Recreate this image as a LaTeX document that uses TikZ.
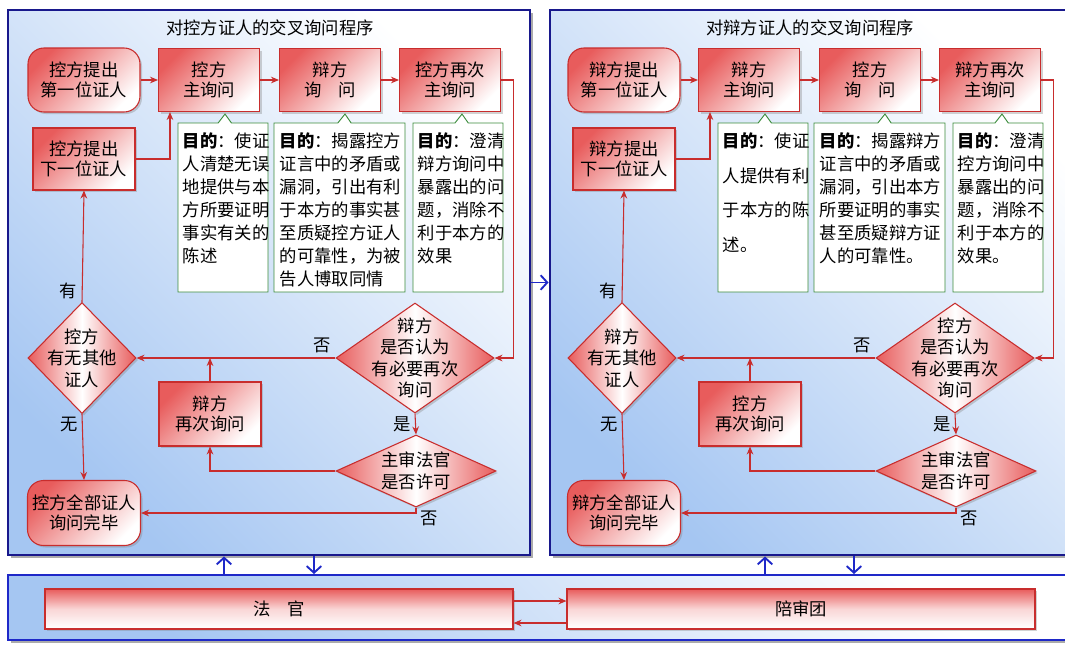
\documentclass[tikz,border=0pt]{standalone}
\usepackage{fontspec}
\setmainfont{Noto Sans CJK SC}
\usepackage{tikz}
\usetikzlibrary{calc,shapes.geometric,shapes.callouts,shadows,arrows.meta}
\definecolor{panelblue}{RGB}{24,24,140}
\definecolor{panelfill}{RGB}{165,198,242}
\definecolor{boxred}{RGB}{232,92,92}
\definecolor{linered}{RGB}{200,45,45}
\definecolor{notegreen}{RGB}{60,140,60}
\definecolor{linkblue}{RGB}{30,40,200}

\begin{document}
\begin{tikzpicture}[x=0.75pt,y=-0.75pt,font=\fontsize{13}{15}\selectfont,
  panel/.style={draw=panelblue,line width=2.2pt,top color=white,bottom color=panelfill,shading angle=-45,drop shadow={shadow xshift=2pt,shadow yshift=-2pt,fill=black!55,opacity=.6},minimum width=391.5pt,minimum height=408.75pt},
  box/.style={draw=linered,line width=.8pt,top color=boxred,bottom color=white,shading angle=45,drop shadow={shadow xshift=1.5pt,shadow yshift=-1.5pt,opacity=.35},align=center,inner sep=2pt,minimum width=75.75pt,minimum height=47.25pt},
  startbox/.style={box,rounded corners=12pt,minimum width=84pt,minimum height=48pt},
  ask/.style={box,diamond,left color=boxred,right color=boxred,middle color=white,inner sep=0pt},
  asktext/.style={align=center,font=\fontsize{13}{16}\selectfont},
  note/.style={rectangle callout,draw=notegreen,line width=.7pt,fill=white,callout pointer width=10pt,minimum height=126.75pt},
  notetext/.style={anchor=north west,align=left,inner sep=0pt,font=\fontsize{13}{17.25}\selectfont},
  arr/.style={draw=linered,line width=.8pt,-{Stealth[length=6pt,width=5pt]}},
  link/.style={draw=linkblue,line width=1.4pt,-{Straight Barb[length=5pt,width=11pt]}},
  bar/.style={box,shading angle=0,middle color=boxred!25,minimum width=351pt,minimum height=30pt}]
\useasboundingbox (0,0) rectangle (1065,644);
\node[panel] (lp) at (269,282.5) {}; \node[panel] (rp) at (811,282.5) {};
\node[panel,draw=linkblue,line width=1.5pt,minimum width=800.25pt,minimum height=48.75pt] (bp) at (541.5,607.5) {};

\node (lt) at (270,28) {对控方证人的交叉询问程序};
\node[startbox] (ls) at (84,80) {控方提出\\第一位证人};
\node[box] (lm1) at (209,80) {控方\\主询问}; \node[box] (lc) at (330,80) {辩方\\询　问}; \node[box] (lm2) at (450,80) {控方再次\\主询问};
\node[box,minimum width=76.5pt,minimum height=46.5pt] (lnx) at (84,159) {控方提出\\下一位证人};
\node[note,minimum width=67.5pt,callout absolute pointer={($(lm1.south)+(16,2)$)}] (ln1) at (223,207.5) {};
\node[note,minimum width=98.25pt,callout absolute pointer={($(lc.south)+(15,2)$)}] (ln2) at (339.5,207.5) {};
\node[note,minimum width=67.5pt,callout absolute pointer={($(lm2.south)+(12,2)$)}] (ln3) at (458,207.5) {};
\node[notetext] (ln1t) at ($(ln1.north -| ln1.west)+(5,10)$) {\textbf{目的}：使证\\人清楚无误\\地提供与本\\方所要证明\\事实有关的\\陈述};
\node[notetext] (ln2t) at ($(ln2.north -| ln2.west)+(6,10)$) {\textbf{目的}：揭露控方\\证言中的矛盾或\\漏洞，引出有利\\于本方的事实甚\\至质疑控方证人\\的可靠性，为被\\告人博取同情};
\node[notetext] (ln3t) at ($(ln3.north -| ln3.west)+(5,10)$) {\textbf{目的}：澄清\\辩方询问中\\暴露出的问\\题，消除不\\利于本方的\\效果};
\node[ask,minimum width=81pt,minimum height=83.25pt,label={[asktext]center:控方\\有无其他\\证人}] (ldo) at (82,358) {};
\node[ask,minimum width=118.5pt,minimum height=82.5pt,label={[asktext]center:辩方\\是否认为\\有必要再次\\询问}] (lda) at (415,358) {};
\node[box,minimum width=76.5pt,minimum height=48pt] (lre) at (210,414) {辩方\\再次询问};
\node[ask,minimum width=120pt,minimum height=54pt,label={[asktext]center:主审法官\\是否许可}] (ldj) at (416,471) {};
\node[startbox,minimum width=84.75pt,minimum height=48.75pt] (ldn) at (84,513) {控方全部证人\\询问完毕};
\draw[arr] (ls.east) -- (lm1.west); \draw[arr] (lm1.east) -- (lc.west); \draw[arr] (lc.east) -- (lm2.west);
\draw[arr] (lm2.east) -- ++(12,0) |- (lda.east);
\draw[arr] (lda.west) -- node[pos=0,anchor=south east]{否} (ldo.east);
\draw[arr] (lre.north) -- (lre.north |- lda.west);
\draw[arr] (lda.south) -- node[left]{是} (ldj.north);
\draw[arr] (ldj.west) -| (lre.south);
\draw[arr] (ldj.south) |- node[pos=.5,right,yshift=-4pt]{否} (ldn.east);
\draw[arr] (ldo.north) -- node[pos=.1,left]{有} (lnx.south);
\draw[arr] (ldo.south) -- node[pos=.16,left]{无} (ldn.north);
\draw[arr] (lnx.east) -| ($(lm1.south west)+(12,0)$);

\node (rt) at (810,28) {对辩方证人的交叉询问程序};
\node[startbox] (rs) at (624,80) {辩方提出\\第一位证人};
\node[box] (rm1) at (749,80) {辩方\\主询问}; \node[box] (rc) at (870,80) {控方\\询　问}; \node[box] (rm2) at (990,80) {辩方再次\\主询问};
\node[box,minimum width=76.5pt,minimum height=46.5pt] (rnx) at (624,159) {辩方提出\\下一位证人};
\node[note,minimum width=67.5pt,callout absolute pointer={($(rm1.south)+(16,2)$)}] (rn1) at (763,207.5) {};
\node[note,minimum width=98.25pt,callout absolute pointer={($(rc.south)+(15,2)$)}] (rn2) at (879.5,207.5) {};
\node[note,minimum width=67.5pt,callout absolute pointer={($(rm2.south)+(12,2)$)}] (rn3) at (998,207.5) {};
\node[notetext,font=\fontsize{13}{26}\selectfont] (rn1t) at ($(rn1.north -| rn1.west)+(5,10)$) {\textbf{目的}：使证\\人提供有利\\于本方的陈\\述。};
\node[notetext] (rn2t) at ($(rn2.north -| rn2.west)+(6,10)$) {\textbf{目的}：揭露辩方\\证言中的矛盾或\\漏洞，引出本方\\所要证明的事实\\甚至质疑辩方证\\人的可靠性。};
\node[notetext] (rn3t) at ($(rn3.north -| rn3.west)+(5,10)$) {\textbf{目的}：澄清\\控方询问中\\暴露出的问\\题，消除不\\利于本方的\\效果。};
\node[ask,minimum width=81pt,minimum height=83.25pt,label={[asktext]center:辩方\\有无其他\\证人}] (rdo) at (622,358) {};
\node[ask,minimum width=118.5pt,minimum height=82.5pt,label={[asktext]center:控方\\是否认为\\有必要再次\\询问}] (rda) at (955,358) {};
\node[box,minimum width=76.5pt,minimum height=48pt] (rre) at (750,414) {控方\\再次询问};
\node[ask,minimum width=120pt,minimum height=54pt,label={[asktext]center:主审法官\\是否许可}] (rdj) at (956,471) {};
\node[startbox,minimum width=84.75pt,minimum height=48.75pt] (rdn) at (624,513) {辩方全部证人\\询问完毕};
\draw[arr] (rs.east) -- (rm1.west); \draw[arr] (rm1.east) -- (rc.west); \draw[arr] (rc.east) -- (rm2.west);
\draw[arr] (rm2.east) -- ++(12,0) |- (rda.east);
\draw[arr] (rda.west) -- node[pos=0,anchor=south east]{否} (rdo.east);
\draw[arr] (rre.north) -- (rre.north |- rda.west);
\draw[arr] (rda.south) -- node[left]{是} (rdj.north);
\draw[arr] (rdj.west) -| (rre.south);
\draw[arr] (rdj.south) |- node[pos=.5,right,yshift=-4pt]{否} (rdn.east);
\draw[arr] (rdo.north) -- node[pos=.1,left]{有} (rnx.south);
\draw[arr] (rdo.south) -- node[pos=.16,left]{无} (rdn.north);
\draw[arr] (rnx.east) -| ($(rm1.south west)+(12,0)$);

\node[bar] (judge) at (279,609) {法　官}; \node[bar] (jury) at (801,609) {陪审团};
\draw[arr] ([yshift=6pt]judge.east) -- ([yshift=6pt]jury.west); \draw[arr] ([yshift=-10.5pt]jury.west) -- ([yshift=-10.5pt]judge.east);
\draw[link] (lp.east) -- (rp.west);
\path ($(lp.south)+(-45,0)$) coordinate (lup) ($(lp.south)+(45,0)$) coordinate (ldw) ($(rp.south)+(-46,0)$) coordinate (rup) ($(rp.south)+(43,0)$) coordinate (rdw);
\draw[link] (lup |- bp.north) -- (lup); \draw[link] (ldw) -- (ldw |- bp.north);
\draw[link] (rup |- bp.north) -- (rup); \draw[link] (rdw) -- (rdw |- bp.north);
\end{tikzpicture}
\end{document}
